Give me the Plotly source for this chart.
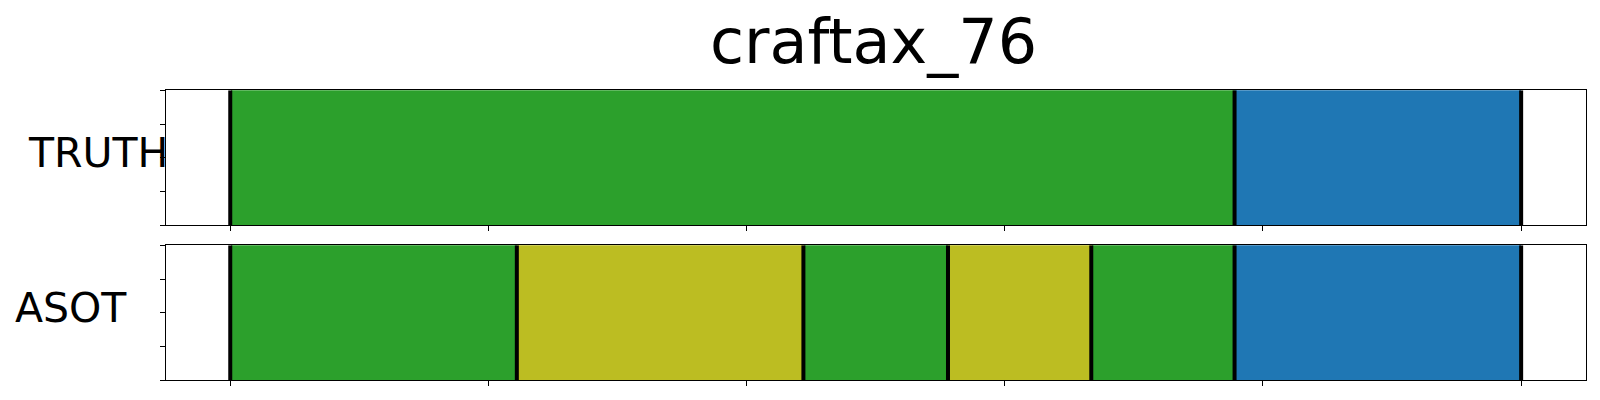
import plotly.graph_objects as go

W, H = 1600, 400

title = "craftax_76"
row_labels = ["TRUTH", "ASOT"]

truth_starts = [0.0, 0.778]
truth_ends = [0.778, 1.0]
truth_colors = ["#2ca02c", "#1f77b4"]

asot_starts = [0.0, 0.222, 0.444, 0.556, 0.667, 0.778]
asot_ends = [0.222, 0.444, 0.556, 0.667, 0.778, 1.0]
asot_colors = ["#2ca02c", "#bcbd22", "#2ca02c", "#bcbd22", "#2ca02c", "#1f77b4"]

x_ticks = [0.0, 0.2, 0.4, 0.6, 0.8, 1.0]
y_ticks = [0.0, 0.25, 0.5, 0.75, 1.0]


def px(x):
    return x / W


def py(y):
    return 1 - y / H


fig = go.Figure()

rows = [
    ("x", "y", truth_starts, truth_ends, truth_colors),
    ("x2", "y2", asot_starts, asot_ends, asot_colors),
]

for xa, ya, starts, ends, colors in rows:
    for s, e, c in zip(starts, ends, colors):
        fig.add_trace(go.Bar(
            x=[e - s], base=[s], y=[0.5], width=[1.0], orientation="h",
            marker=dict(color=c, line=dict(color=c, width=0)),
            xaxis=xa, yaxis=ya, showlegend=False, hoverinfo="skip",
        ))
    bounds = sorted(set(starts + ends))
    bx, by = [], []
    for b in bounds:
        bx += [b, b, None]
        by += [0, 1, None]
    fig.add_trace(go.Scatter(
        x=bx, y=by, mode="lines", line=dict(color="black", width=4),
        xaxis=xa, yaxis=ya, showlegend=False, hoverinfo="skip",
    ))

x0, x1 = px(165.7), px(1585.7)
axis_common = dict(
    showgrid=False, zeroline=False, showline=True, mirror=True,
    linecolor="black", linewidth=1, ticks="outside", ticklen=5,
    tickwidth=1, tickcolor="black", showticklabels=False,
)
xr = [-0.05, 1.05]
fig.update_layout(
    width=W, height=H,
    margin=dict(l=0, r=0, t=0, b=0),
    paper_bgcolor="white", plot_bgcolor="white",
    barmode="overlay", bargap=0,
    xaxis=dict(domain=[x0, x1], range=xr, tickvals=x_ticks, anchor="y", **axis_common),
    yaxis=dict(domain=[py(225.3), py(90.3)], range=[0, 1], tickvals=y_ticks, anchor="x", **axis_common),
    xaxis2=dict(domain=[x0, x1], range=xr, tickvals=x_ticks, anchor="y2", **axis_common),
    yaxis2=dict(domain=[py(380.3), py(245.3)], range=[0, 1], tickvals=y_ticks, anchor="x2", **axis_common),
    font=dict(family="DejaVu Sans", color="black"),
)

fig.add_annotation(
    text=title, xref="paper", yref="paper", x=px(873), y=py(41.5),
    xanchor="center", yanchor="middle", showarrow=False, borderpad=0,
    font=dict(size=62, family="DejaVu Sans", color="black"),
)
fig.add_annotation(
    text=row_labels[0], xref="paper", yref="paper", x=px(98), y=py(153.3),
    xanchor="center", yanchor="middle", showarrow=False,
    font=dict(size=41, family="DejaVu Sans", color="black"),
)
fig.add_annotation(
    text=row_labels[1], xref="paper", yref="paper", x=px(71), y=py(308),
    xanchor="center", yanchor="middle", showarrow=False,
    font=dict(size=41, family="DejaVu Sans", color="black"),
)

fig.write_html(
    "out.html",
    config={"displayModeBar": False},
    post_script="document.body.style.margin='0';document.body.style.overflow='hidden';",
)
